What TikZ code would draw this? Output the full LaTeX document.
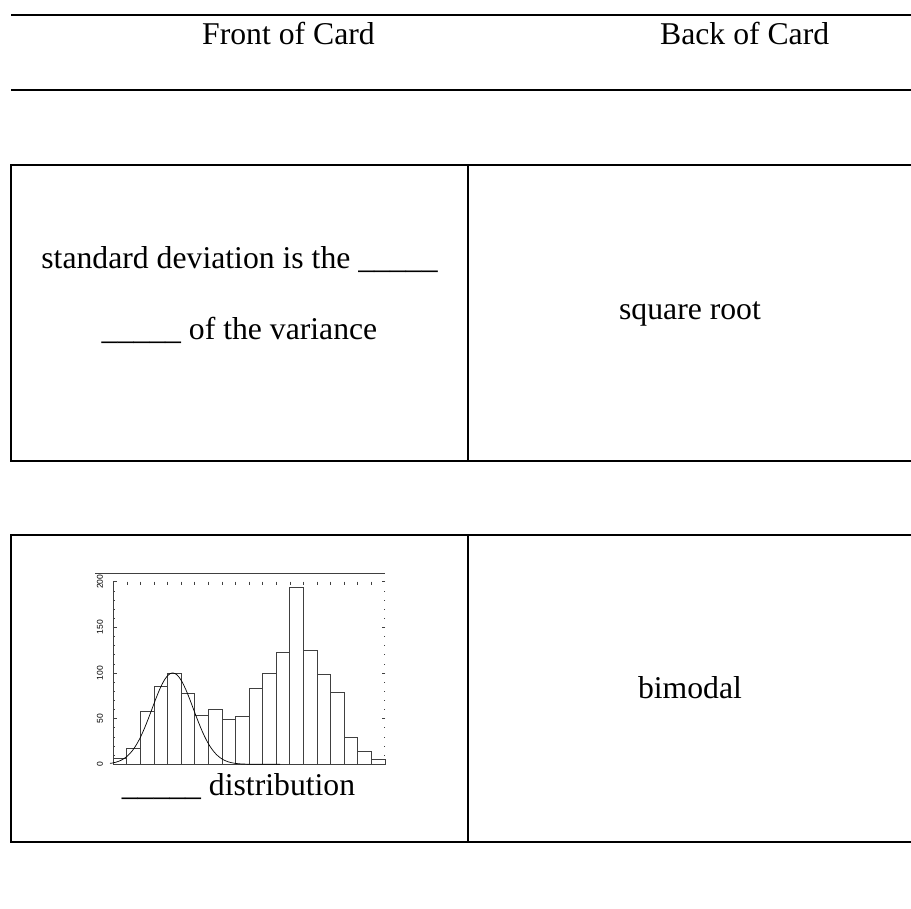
\documentclass[tikz,border=0pt]{standalone}
\usepackage{fontspec}
\setmainfont{Liberation Serif}
\newfontfamily\labfont{Liberation Sans}
\begin{document}
\begin{tikzpicture}[x=1pt,y=-1pt,
  rule/.style={line width=2pt},
  divider/.style={line width=1.7pt},
  cardtext/.style={inner sep=0pt, font=\fontsize{31.7}{38}\selectfont},
  bar/.style={draw=black!75, line width=0.8pt},
  axis/.style={draw=black!75, line width=0.8pt},
  lab/.style={inner sep=0pt, font=\labfont\fontsize{8.5}{9}\selectfont, rotate=90}]
\useasboundingbox (0,0) rectangle (911,909);
% header
\draw[rule] (11,15) -- (911,15);
\draw[rule] (11,90) -- (911,90);
\node[cardtext, anchor=base west] (hfront) at (202,45) {Front of Card};
\node[cardtext, anchor=base west] (hback) at (660,45) {Back of Card};
% card 1
\draw[rule] (911,165) -- (11,165) -- (11,461) -- (911,461);
\draw[divider] (468,165) -- (468,461);
\node[cardtext, anchor=base] (q1a) at (239.5,269) {standard deviation is the \_\_\_\_\_};
\node[cardtext, anchor=base] (q1b) at (239.5,340) {\_\_\_\_\_ of the variance};
\node[cardtext, anchor=base] (a1) at (690,320) {square root};
% card 2
\draw[rule] (911,535) -- (11,535) -- (11,842) -- (911,842);
\draw[divider] (468,535) -- (468,842);
\node[cardtext, anchor=base] (q2) at (238.5,795) {\_\_\_\_\_ distribution};
\node[cardtext, anchor=base] (a2) at (690,698) {bimodal};
% histogram
\foreach \v [count=\i from 0] in {6.5,17,58,85,100,78,54,60,49,52,83,100,123,194,125,99,79,29,14,5}
  \draw[bar] ({113.3+\i*13.58},764.3) rectangle ({113.3+(\i+1)*13.58},{764.3-0.913*\v});
\draw[axis] (95,573.3) -- (385,573.3);
\draw[axis] (113.3,581.7) -- (113.3,764.3) -- (385,764.3);
\foreach \v in {0,10,...,200} {
  \draw[axis, line width=0.6pt] (113.3,{764.3-0.913*\v}) -- ++(2,0);
  \draw[axis, line width=0.6pt] (385,{764.3-0.913*\v}) -- ++(-1.5,0);
}
\foreach \v in {0,50,...,200} {
  \draw[axis] (113.3,{764.3-0.913*\v}) -- ++(4,0);
  \draw[axis] (385,{764.3-0.913*\v}) -- ++(-3.5,0);
}
\foreach \i in {1,...,19}
  \draw[axis, line width=0.6pt] ({113.3+\i*13.58},581.7) -- ++(0,3);
\draw[line width=0.7pt, domain=110:280, samples=100, smooth]
  plot (\x, {764.3-91.3*exp(-((\x-172.7)^2)/857)});
\node[lab] (l0) at (100,764.3) {0};
\node[lab] (l50) at (100,{764.3-0.913*50}) {50};
\node[lab] (l100) at (100,{764.3-0.913*100}) {100};
\node[lab] (l150) at (100,{764.3-0.913*150}) {150};
\node[lab] (l200) at (100,{764.3-0.913*200}) {200};
\end{tikzpicture}
\end{document}
